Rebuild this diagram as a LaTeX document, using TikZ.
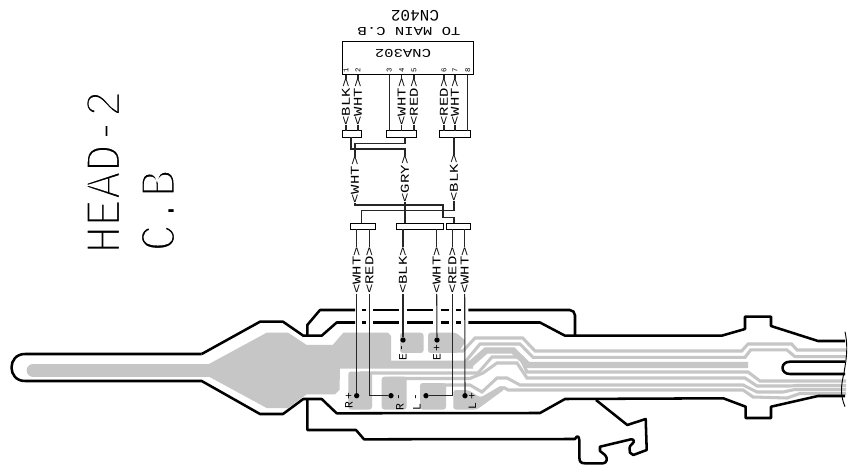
\documentclass[tikz,border=0pt]{standalone}
\usepackage{fontspec}
\setmainfont{Liberation Mono}
\definecolor{pcb}{HTML}{C6C6C6}
\newcommand{\thintext}[1]{\special{pdf:code 2 Tr 1.5 w 1 1 1 RG}#1\special{pdf:code 0 Tr 0 0 0 RG}}
\tikzset{
 x=0.75pt,y=-0.75pt,
 lab/.style={inner sep=0pt,outer sep=0pt,font=\fontsize{9}{9}\selectfont,rotate=90,xscale=1.3},
 upside/.style={inner sep=0pt,outer sep=0pt,rotate=180,xscale=1.3,font=\fontsize{9}{9}\selectfont},
 pinno/.style={inner sep=0pt,font=\fontsize{5.5}{5.5}\selectfont,rotate=90},
 marker/.style={inner sep=0pt,font=\fontsize{8.5}{8.5}\selectfont,rotate=90},
 blk/.style={draw=black,line width=0.75pt,fill=white,inner sep=0pt,outer sep=0pt},
 wire/.style={draw=black!85,line width=0.8pt},
 board/.style={draw=black,line width=1.9pt,line join=round},
 trace/.style={draw=pcb,line width=2.3pt,line join=miter},
 blob/.style={fill=pcb,rounded corners=2pt},
 dotn/.style={circle,fill=black,inner sep=0pt,minimum size=4pt},
}
\begin{document}
\begin{tikzpicture}
\useasboundingbox (0,0) rectangle (849,466);
\fill[white] (0,0) rectangle (849,466);
% --- copper
\draw[line width=9.5pt,draw=pcb,line cap=round] (33,370.3) -- (212,370.3);
\fill[pcb] (209,364) -- (266.7,332.7) -- (288,332.7) -- (306.7,345) -- (332.7,345) -- (343.3,332.7) -- (388,332.7) -- (391,336) -- (391,360.7) -- (473,360.7) -- (473,368.5) -- (340,368.5) -- (339.5,390) -- (335,394.3) -- (306.7,394.3) -- (288,408) -- (266.7,408) -- (209,376.7) -- cycle;
\fill[blob] (400,332.7) rectangle (423.5,353);
\fill[blob] (428,332.7) -- (456,332.7) -- (466,341) -- (458,353) -- (428,353) -- cycle;
\fill[blob] (348.3,371.5) -- (372,371.5) -- (372,409.5) -- (348.3,409.5) -- cycle;
\fill[blob] (381.7,376.7) -- (406.7,376.7) -- (406.7,409.5) -- (381.7,409.5) -- cycle;
\fill[blob] (420,383) -- (446,383) -- (446,409.5) -- (420,409.5) -- cycle;
\fill[blob] (453.3,390) -- (468,390) -- (480.5,397.5) -- (502,385) -- (505,389) -- (477,409.5) -- (453.3,409.5) -- cycle;
\draw[trace] (456,351) -- (463,351) -- (475,338) -- (522.7,338) -- (535,351) -- (741.7,351) -- (748,344) -- (791.7,344) -- (797,350) -- (846,350);
\draw[trace] (465,362) -- (480,344) -- (520,344) -- (533,357.3) -- (745,357.3) -- (750.7,349.8) -- (786.7,349.8) -- (795,356.7) -- (846,356.7);
\draw[draw=pcb,line width=4.8pt,line join=miter] (470,364.5) -- (486,350.5) -- (513,350.5) -- (528,365) -- (748,365);
\draw[trace] (360,373) -- (478,373) -- (492,357) -- (520,357) -- (527,372) -- (748,372) -- (760,381) -- (846,381);
\draw[trace] (390,378.5) -- (470,378.5) -- (483,373) -- (497,363) -- (517,363) -- (527,378) -- (745,378) -- (757,386) -- (790,386) -- (797,385.5) -- (846,385.5);
\draw[trace] (430,385) -- (470,385) -- (482,392) -- (497,378) -- (507,378) -- (520,385) -- (743,385) -- (757,392) -- (783,392) -- (795,389.5) -- (846,389.5);
\draw[trace] (503,387) -- (508,390) -- (743,390) -- (753,397) -- (787,398) -- (800,393.5) -- (846,393.5);
% --- board outline
\draw[board] (201.7,354) -- (25,354) .. controls (7,354) and (7,381) .. (25,381) -- (201.7,381) -- (260,414) -- (283,414) -- (303.3,399) -- (321.7,399) -- (336.7,413.3) -- (540,413) -- (565,399) -- (723.3,398.3) -- (745.7,406.7) -- (745.7,418) -- (771,418) -- (771,406.7) -- (818,396) -- (845,396);
\draw[board] (201.7,354) -- (260,321.7) -- (283,321.7) -- (303.3,335.7) -- (321.7,335.7) -- (336.7,322.5) -- (355,322.5);
\draw[board] (307.3,335.7) -- (307.3,325) -- (320,310) -- (355,310);
\foreach \a/\b in {361.7/366,373.3/399.3,407.3/432.7,440.7/449.3,456/460.7}{
 \draw[board] (\a,310) -- (\b,310);
 \draw[board] (\a,322.5) -- (\b,322.5);
}
\draw[board,rounded corners=4pt] (468.3,310) -- (575,310) -- (575,335.7);
\draw[board] (468.3,322.5) -- (540,322.5) -- (565,335.7) -- (721.7,335.7) -- (745,329) -- (745,316.7) -- (771,316.7) -- (771,326) -- (818,341) -- (845,341);
\draw[board] (845,361.7) -- (790,361.7) .. controls (780,361.7) and (780,374) .. (790,374) -- (845,374);
\draw[draw=black,line width=0.7pt] (845,331.7) .. controls (849,350) and (845,365) .. (844,373) .. controls (841,385) and (840,395) .. (845,406.7);
\draw[board] (307.3,399) -- (307.3,430) -- (356,430) -- (364,439.3) -- (575,439) .. controls (577,435) and (579,436) .. (579.3,440) -- (579.3,456.7) .. controls (579.3,462) and (581,463.3) .. (585,463.3) -- (603,463.3) .. controls (607,463.3) and (608,458) .. (605,455) -- (600,451) -- (600,446.7) -- (631,439.3) .. controls (634,439) and (635,442) .. (632,444) .. controls (629,446) and (629,450) .. (630,452.7) -- (633.3,455) -- (646.7,450) -- (645.7,419) -- (627.3,425) -- (596,400);
% --- cable diagram
\node[blk,minimum width=98.25pt,minimum height=24.75pt] (cna) at (407.5,58.5) {};
\node[upside] (cnat) at (403,53) {CNA302};
\node[upside] (main) at (409,31) {TO MAIN C.B};
\node[inner sep=0pt,rotate=180,font=\fontsize{12}{12}\selectfont] (cnf) at (415,15.5) {CN402};
\foreach \n/\x in {1/346,2/358,3/389.3,4/401.7,5/414,6/444,7/455,8/467.7}{
 \node[pinno] (p\n) at (\x,70) {\n};
}
\node[blk,minimum width=14pt,minimum height=4.8pt] (b1) at (352.3,134) {};
\node[blk,minimum width=23.2pt,minimum height=4.8pt] (b2) at (401.5,134) {};
\node[blk,minimum width=23pt,minimum height=4.8pt] (b3) at (455.3,134) {};
\node[blk,minimum width=18.7pt,minimum height=4.5pt] (b4) at (363.2,226.3) {};
\node[blk,minimum width=35pt,minimum height=4.5pt] (b5) at (420,226.3) {};
\node[blk,minimum width=18pt,minimum height=4.5pt] (b6) at (458.7,226.3) {};
\node[lab] (l1) at (346,102) {<BLK>};
\node[lab] (l2) at (358,102) {<WHT>};
\node[lab] (l4) at (401.7,102) {<WHT>};
\node[lab] (l5) at (414,102) {<RED>};
\node[lab] (l6) at (444,102) {<RED>};
\node[lab] (l7) at (455,102) {<WHT>};
\foreach \n in {1,2}{\draw[wire] (l\n.east) -- (l\n.east |- cna.south); \draw[wire] (l\n.west) -- (l\n.west |- b1.north);}
\foreach \n in {4,5}{\draw[wire] (l\n.east) -- (l\n.east |- cna.south); \draw[wire] (l\n.west) -- (l\n.west |- b2.north);}
\foreach \n in {6,7}{\draw[wire] (l\n.east) -- (l\n.east |- cna.south); \draw[wire] (l\n.west) -- (l\n.west |- b3.north);}
\draw[wire] (389.3,0 |- cna.south) -- (389.3,0 |- b2.north);
\draw[wire] (467.7,0 |- cna.south) -- (467.7,0 |- b3.north);
\node[lab] (m1) at (355,180) {<WHT>};
\node[lab] (m2) at (405,179) {<GRY>};
\node[lab] (m3) at (454,178) {<BLK>};
\draw[wire] (351,0 |- b1.south) -- (351,149) -- (405,149) -- (m2.east);
\draw[wire] (m1.east) -- (355,143.3) -- (405,143.3) -- (405,0 |- b2.south);
\draw[wire] (454,0 |- b3.south) -- (m3.east);
\draw[wire] (m1.west) -- (355,205) -- (443,205) -- (443,217.7) -- (454,217.7) -- (454,0 |- b6.north);
\draw[wire] (m3.west) -- (454,210.7) -- (361.7,210.7) -- (361.7,0 |- b4.north);
\draw[wire] (m2.west) -- (405,0 |- b5.north);
\node[lab] (n1) at (356.7,270.5) {<WHT>};
\node[lab] (n2) at (369.3,270.5) {<RED>};
\node[lab] (n3) at (403,270.5) {<BLK>};
\node[lab] (n4) at (436.7,270.5) {<WHT>};
\node[lab] (n5) at (452.3,270.5) {<RED>};
\node[lab] (n6) at (464.7,270.5) {<WHT>};
\foreach \n/\b in {1/b4,2/b4,3/b5,4/b5,5/b6,6/b6}{\draw[wire] (n\n.east) -- (n\n.east |- \b.south);}
\node[dotn] (d1) at (356.7,395.7) {};
\node[dotn] (d2) at (391,395.7) {};
\node[dotn] (d3) at (403,340) {};
\node[dotn] (d4) at (437,340) {};
\node[dotn] (d5) at (426,395.7) {};
\node[dotn] (d6) at (465,395.7) {};
\draw[wire] (n1.west) -- (d1);
\draw[wire] (n2.west) -- (369.3,395.7) -- (d2);
\draw[wire] (n3.west) -- (d3);
\draw[wire] (n4.west) -- (d4);
\draw[wire] (n5.west) -- (452.3,395.7) -- (d5);
\draw[wire] (n6.west) -- (d6);
\node[marker] (t1) at (349,396) {+};
\node[marker] (t2) at (349,405) {R};
\node[marker] (t3) at (400,397) {-};
\node[marker] (t4) at (400,407) {R};
\node[marker] (t5) at (417,397) {-};
\node[marker] (t6) at (417,407) {L};
\node[marker] (t7) at (472.3,396) {+};
\node[marker] (t8) at (472.3,406) {L};
\node[marker] (t9) at (403,348) {-};
\node[marker] (t10) at (403,357.3) {E};
\node[marker] (t11) at (437,348) {+};
\node[marker] (t12) at (437,357.3) {E};
\node[inner sep=0pt,rotate=90,yscale=1.15,xscale=1.03,font=\fontsize{33}{33}\selectfont] (head) at (103,171.7) {\thintext{HEAD-2}};
\node[inner sep=0pt,rotate=90,yscale=1.15,xscale=1.03,anchor=west,font=\fontsize{33}{33}\selectfont] (cb) at (158,251.7) {\thintext{C. \kern-0.6em B}};
\end{tikzpicture}
\end{document}
